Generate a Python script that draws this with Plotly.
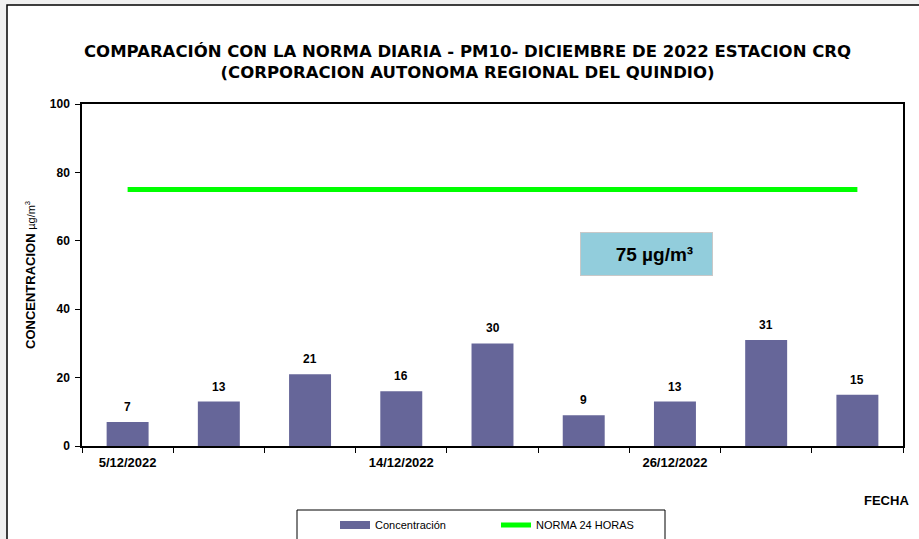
import plotly.graph_objects as go

fechas = ["5/12/2022", "8/12/2022", "11/12/2022", "14/12/2022", "17/12/2022",
          "20/12/2022", "26/12/2022", "29/12/2022", "30/12/2022"]
concentracion = [7, 13, 21, 16, 30, 9, 13, 31, 15]
norma = [75] * len(fechas)
etiquetas_x = ["5/12/2022", "", "", "14/12/2022", "", "", "26/12/2022", "", ""]

FONT = "Liberation Sans, Arial, sans-serif"
TITLE_FONT = "DejaVu Sans, sans-serif"

# plot area in pixels
W, H = 919, 539
L, R, T, B = 82, 903, 104, 446
pw, ph = R - L, B - T

def px_x(px):
    return (px - L) / pw

def px_y(py):
    return (B - py) / ph

pos = list(range(len(fechas)))
tick_pos = [i for i, t in enumerate(etiquetas_x) if t]
tick_txt = [etiquetas_x[i] for i in tick_pos]

fig = go.Figure()
fig.add_trace(go.Bar(
    x=pos, y=concentracion, name="Concentración", showlegend=False,
    marker=dict(color="#666699", line=dict(width=0)),
    customdata=fechas, hovertemplate="%{customdata}: %{y}<extra></extra>",
))
# legend entry drawn as a wide swatch like the reference
fig.add_trace(go.Scatter(
    x=[None], y=[None], name="Concentración", mode="lines",
    line=dict(color="#666699", width=8),
))
fig.add_trace(go.Scatter(
    x=pos, y=norma, name="NORMA 24 HORAS", mode="lines",
    line=dict(color="#00ff00", width=5),
))

annotations = []
for p, v in zip(pos, concentracion):
    annotations.append(dict(
        x=p, y=v, xref="x", yref="y", text=f"<b>{v}</b>", showarrow=False,
        yanchor="bottom", yshift=6, font=dict(family=FONT, size=12, color="black"),
    ))

annotations.append(dict(
    x=px_x(646.5), y=px_y(254), xref="paper", yref="paper",
    text="<b>   75 µg/m³</b>", showarrow=False, width=131, height=42,
    bgcolor="#92cddc", bordercolor="#c8c8c8", borderwidth=1, borderpad=0,
    xanchor="center", yanchor="middle",
    font=dict(family=FONT, size=19, color="black"),
))
annotations.append(dict(
    x=px_x(467), y=px_y(62), xref="paper", yref="paper",
    text="<b>COMPARACIÓN CON LA NORMA DIARIA - PM10- DICIEMBRE DE 2022 ESTACION CRQ<br>(CORPORACION AUTONOMA REGIONAL DEL QUINDIO)</b>",
    showarrow=False, xanchor="center", yanchor="middle",
    font=dict(family=TITLE_FONT, size=16.5, color="black"),
))
annotations.append(dict(
    x=px_x(886), y=px_y(500), xref="paper", yref="paper",
    text="<b>FECHA</b>", showarrow=False, xanchor="center", yanchor="middle",
    font=dict(family=FONT, size=13, color="black"),
))
annotations.append(dict(
    x=px_x(30), y=px_y(275), xref="paper", yref="paper",
    text="<b>CONCENTRACION </b><span style='font-size:11px'>µg/m<sup>3</sup></span>",
    showarrow=False, textangle=-90, xanchor="center", yanchor="middle",
    font=dict(family=FONT, size=13, color="black"),
))

shapes = [
    dict(type="rect", xref="paper", yref="paper", layer="below",
         x0=px_x(7), x1=px_x(930), y0=px_y(5), y1=px_y(560),
         fillcolor="white", line=dict(color="black", width=1.5)),
    dict(type="rect", xref="paper", yref="paper", layer="below",
         x0=px_x(297), x1=px_x(665), y0=px_y(510), y1=px_y(560),
         fillcolor="white", line=dict(color="black", width=1)),
]

fig.update_layout(
    width=W, height=H,
    margin=dict(l=L, r=W - R, t=T, b=H - B, autoexpand=False),
    paper_bgcolor="#f0f0f0", plot_bgcolor="white",
    bargap=0.54,
    font=dict(family=FONT, size=11, color="black"),
    showlegend=True,
    legend=dict(
        orientation="h", x=px_x(335), y=px_y(525), xanchor="left", yanchor="middle",
        bgcolor="rgba(0,0,0,0)", borderwidth=0,
        font=dict(family=FONT, size=11, color="black"),
        entrywidth=116, entrywidthmode="pixels",
    ),
    annotations=annotations,
    shapes=shapes,
)
fig.update_xaxes(
    tickmode="array", tickvals=tick_pos, ticktext=tick_txt, ticks="",
    minor=dict(tickmode="linear", tick0=-0.5, dtick=1, ticks="outside",
               ticklen=5, tickcolor="black", showgrid=False),
    showline=True, linecolor="black", linewidth=1.5, mirror=True,
    showgrid=False, zeroline=False, range=[-0.5, len(fechas) - 0.5],
    ticklabelstandoff=4,
    tickfont=dict(family=FONT, size=13, color="black", weight="bold"),
)
fig.update_yaxes(
    range=[0, 100], dtick=20, ticks="outside", ticklen=5, tickcolor="black",
    showline=True, linecolor="black", linewidth=1.5, mirror=True,
    showgrid=False, zeroline=False, ticklabelstandoff=3,
    tickfont=dict(family=FONT, size=12, color="black", weight="bold"),
)

fig.write_html("out.html", config={"displayModeBar": False},
               post_script="document.body.style.margin='0';")
